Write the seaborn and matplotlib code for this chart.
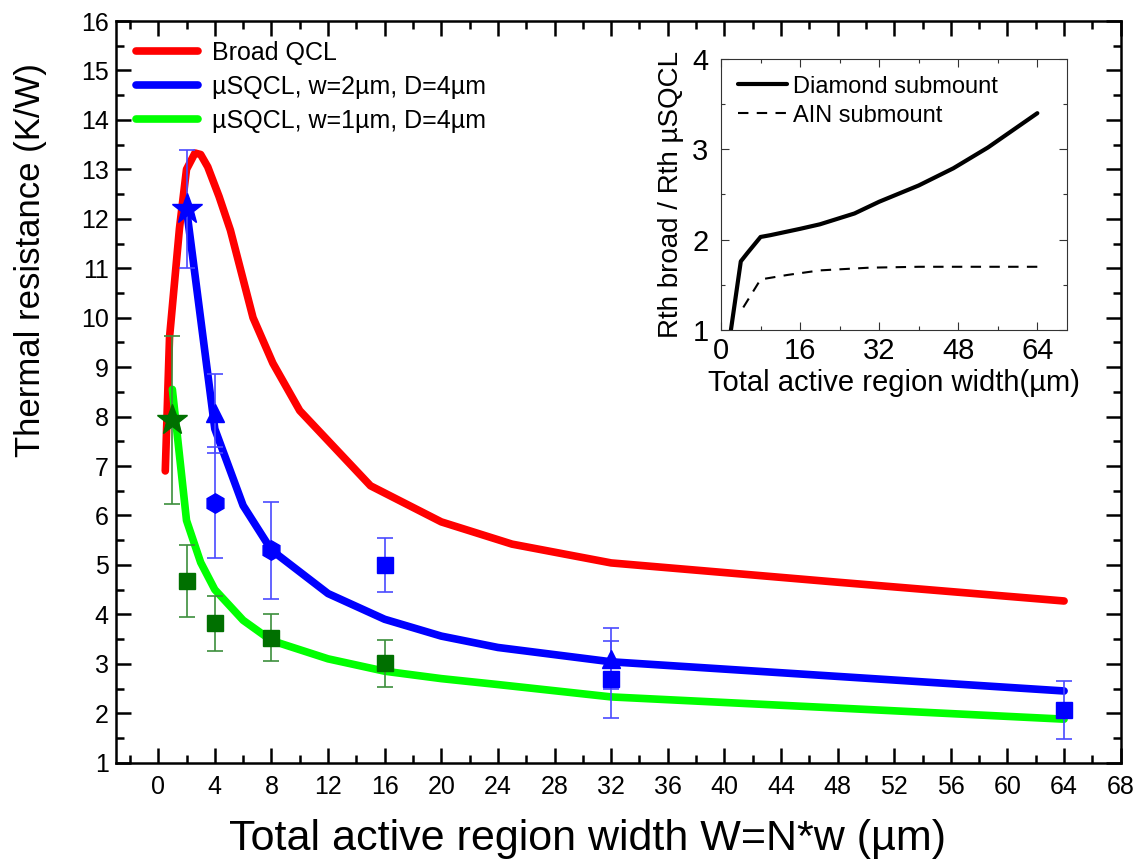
import numpy as np
import pandas as pd
import seaborn as sns
import matplotlib
matplotlib.use('Agg')
import matplotlib.pyplot as plt
from matplotlib.ticker import MultipleLocator

# simulated curves (main panel)
broad_x = [0.5, 0.8, 1.5, 2.0, 2.6, 3.0, 3.5, 4.3, 5.1, 6.7, 8.1, 10, 15, 20, 25, 32, 48, 64]
broad_y = [6.9, 9.6, 11.8, 13.0, 13.33, 13.3, 13.05, 12.45, 11.77, 10.0, 9.08, 8.12, 6.6, 5.87, 5.42, 5.04, 4.65, 4.27]

w2_x = [2, 4, 6, 8, 12, 16, 20, 24, 32, 64]
w2_y = [12.2, 7.75, 6.2, 5.3, 4.42, 3.9, 3.56, 3.33, 3.04, 2.45]

w1_x = [1, 2, 3, 4, 6, 8, 12, 16, 20, 24, 32, 64]
w1_y = [8.55, 5.9, 5.05, 4.5, 3.88, 3.47, 3.1, 2.85, 2.7, 2.58, 2.33, 1.88]

# measured points (x, y, error, marker)
w2_pts = [(2, 12.2, 1.2, '*'), (4, 8.07, 0.8, '^'), (4, 6.26, 1.13, 'h'),
          (8, 5.3, 0.98, 'h'), (16, 5.0, 0.55, 's'), (32, 3.1, 0.62, '^'),
          (32, 2.69, 0.78, 's'), (64, 2.07, 0.59, 's')]
w1_pts = [(1, 7.93, 1.7, '*'), (2, 4.67, 0.73, 's'), (4, 3.82, 0.56, 's'),
          (8, 3.53, 0.48, 's'), (16, 3.01, 0.48, 's')]

# inset: ratio broad / uSQCL
dia_x = [2, 4, 5.3, 8, 10, 16, 20, 27, 32, 40, 47, 54, 64]
dia_y = [1.0, 1.76, 1.85, 2.03, 2.05, 2.12, 2.17, 2.29, 2.42, 2.6, 2.79, 3.02, 3.4]
aln_x = [4.5, 8, 13.5, 20, 30, 40, 64]
aln_y = [1.25, 1.56, 1.61, 1.66, 1.69, 1.70, 1.70]

sns.set_style('ticks')
plt.rcParams['font.family'] = ['Liberation Sans', 'DejaVu Sans']
plt.rcParams.update({'text.color': 'black', 'axes.labelcolor': 'black',
                     'xtick.color': 'black', 'ytick.color': 'black'})

fig = plt.figure(figsize=(11.38, 8.61), dpi=100)
ax = fig.add_axes([0.1017, 0.1142, 0.8831, 0.8614])

line_kw = dict(lw=5.5, solid_capstyle='round', solid_joinstyle='round', sort=False, ax=ax)
sns.lineplot(x=broad_x, y=broad_y, color='#ff0000', label='Broad QCL', **line_kw)
sns.lineplot(x=w2_x, y=w2_y, color='#0000ff', label='µSQCL, w=2µm, D=4µm', **line_kw)
sns.lineplot(x=w1_x, y=w1_y, color='#00ff00', label='µSQCL, w=1µm, D=4µm', **line_kw)

msize = {'*': 23, '^': 13, 'h': 14, 's': 11}
for pts, col, ecol in [(w2_pts, '#0000ff', '#4a4aff'), (w1_pts, '#007000', '#3c8f3c')]:
    df = pd.DataFrame(pts, columns=['x', 'y', 'err', 'm'])
    ax.errorbar(df['x'], df['y'], yerr=df['err'], fmt='none', ecolor=ecol,
                elinewidth=1.2, capsize=6, capthick=1.2, zorder=4)
    for m, g in df.groupby('m'):
        ax.plot(g['x'], g['y'], ls='none', marker=m, ms=msize[m], color=col,
                mec=col, zorder=5)

ax.set_xlim(-3, 68)
ax.set_ylim(1, 16)
ax.xaxis.set_major_locator(MultipleLocator(4))
ax.xaxis.set_minor_locator(MultipleLocator(2))
ax.yaxis.set_major_locator(MultipleLocator(1))
ax.yaxis.set_minor_locator(MultipleLocator(0.5))
ax.tick_params(which='both', direction='in', top=True, right=True, width=1.8,
               labelsize=18, color='black', labelcolor='black')
ax.tick_params(axis='x', pad=9)
ax.tick_params(axis='y', pad=5)
ax.tick_params(which='major', length=11)
ax.tick_params(which='minor', length=6)
for s in ax.spines.values():
    s.set_linewidth(1.8)
    s.set_color('black')
ax.set_xlabel('Total active region width W=N*w (µm)', fontsize=31)
ax.set_ylabel('Thermal resistance (K/W)', fontsize=25)
ax.xaxis.set_label_coords(0.469, -0.076)
ax.yaxis.set_label_coords(-0.068, 0.678)

leg = ax.legend(loc='upper left', frameon=False, fontsize=18, handlelength=2.5,
                handletextpad=0.55, labelspacing=0.4, borderaxespad=0.4)
for h in leg.get_lines():
    h.set_linewidth(5.5)

# inset
axin = fig.add_axes([0.6336, 0.6167, 0.304, 0.3148])
sns.lineplot(x=dia_x, y=dia_y, color='black', lw=3, sort=False, ax=axin,
             label='Diamond submount')
sns.lineplot(x=aln_x, y=aln_y, color='black', lw=1.5, ls=(0, (5, 4)), sort=False,
             ax=axin, label='AIN submount')
axin.set_xlim(0, 70)
axin.set_ylim(1, 4)
axin.xaxis.set_major_locator(MultipleLocator(16))
axin.xaxis.set_minor_locator(MultipleLocator(8))
axin.yaxis.set_major_locator(MultipleLocator(1))
axin.yaxis.set_minor_locator(MultipleLocator(0.5))
axin.tick_params(which='both', direction='in', top=True, right=True, width=0.8,
                 labelsize=21, color='#333333', labelcolor='black')
axin.tick_params(axis='y', pad=9)
axin.tick_params(axis='x', pad=5)
axin.tick_params(which='major', length=6)
axin.tick_params(which='minor', length=3)
for s in axin.spines.values():
    s.set_linewidth(0.8)
    s.set_color('#333333')
axin.set_xlabel('Total active region width(µm)', fontsize=21, labelpad=3)
axin.set_ylabel('Rth broad / Rth µSQCL', fontsize=20, labelpad=6)
axin.legend(loc='upper left', frameon=False, fontsize=17, handlelength=2.1,
            handletextpad=0.25, labelspacing=0.3, borderaxespad=0.3)

fig.savefig('out.png', dpi=100)
